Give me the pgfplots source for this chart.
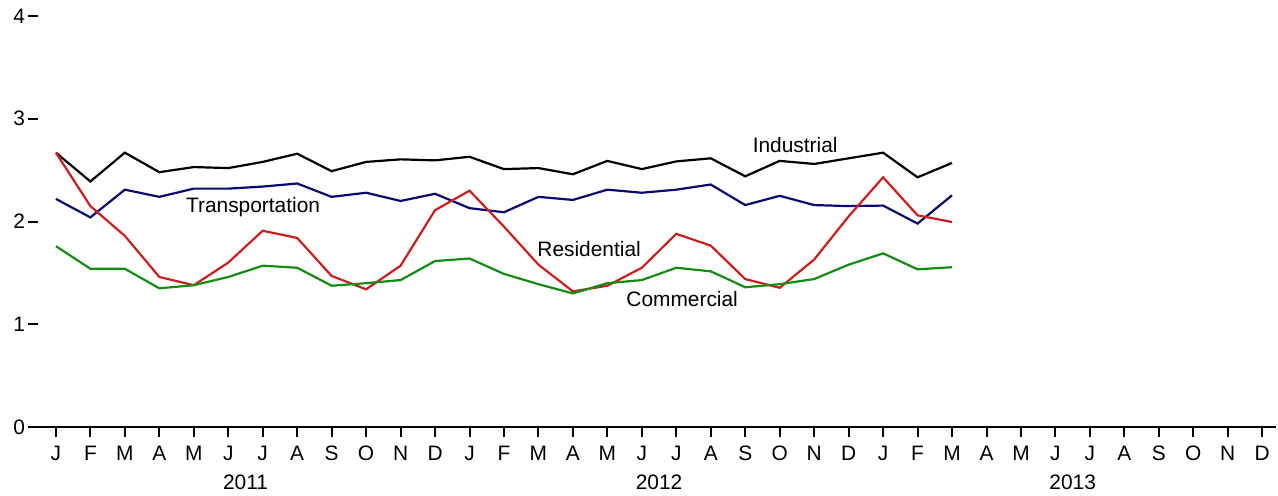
\documentclass[border=0pt]{standalone}
\usepackage{pgfplots}
\pgfplotsset{compat=1.18}
\usepackage{fontspec}
\setmainfont{Liberation Sans}
\definecolor{cNavy}{RGB}{10,10,110}
\definecolor{cRed}{RGB}{204,30,30}
\definecolor{cGreen}{RGB}{20,140,20}
\begin{document}
\begin{tikzpicture}
\path[use as bounding box] (-14pt,-34pt) rectangle (625pt,213.5pt);
\begin{axis}[
  at={(0,0)}, anchor=south west,
  scale only axis,
  width=624pt, height=205.5pt,
  xmin=-0.81, xmax=35.4,
  ymin=0, ymax=4,
  axis x line*=bottom,
  axis y line*=left,
  y axis line style={draw=none},
  x axis line style={line width=1pt,-},
  xtick={0,...,35},
  xticklabels={J,F,M,A,M,J,J,A,S,O,N,D,J,F,M,A,M,J,J,A,S,O,N,D,J,F,M,A,M,J,J,A,S,O,N,D},
  ytick={0,1,2,3,4},
  xtick align=outside,
  ytick align=inside,
  major tick length=5pt,
  every tick/.style={black, line width=1pt},
  tick label style={font=\fontsize{10.45}{12}\selectfont},
  /pgf/number format/assume math mode=true,
  yticklabel style={xshift=2pt},
  xticklabel style={yshift=-1pt},
  clip=false,
]
\addplot[black, line width=1.1pt] coordinates {
(0,2.67)(1,2.39)(2,2.67)(3,2.48)(4,2.53)(5,2.52)(6,2.58)(7,2.66)(8,2.49)(9,2.58)(10,2.605)(11,2.595)
(12,2.63)(13,2.51)(14,2.52)(15,2.46)(16,2.59)(17,2.51)(18,2.585)(19,2.615)(20,2.44)(21,2.59)(22,2.56)(23,2.615)
(24,2.67)(25,2.43)(26,2.57)};
\addplot[cNavy, line width=1.1pt] coordinates {
(0,2.22)(1,2.04)(2,2.31)(3,2.24)(4,2.32)(5,2.32)(6,2.34)(7,2.37)(8,2.24)(9,2.28)(10,2.20)(11,2.27)
(12,2.13)(13,2.09)(14,2.24)(15,2.21)(16,2.31)(17,2.28)(18,2.31)(19,2.36)(20,2.16)(21,2.25)(22,2.16)(23,2.15)
(24,2.155)(25,1.98)(26,2.255)};
\addplot[cRed, line width=1.1pt] coordinates {
(0,2.67)(1,2.15)(2,1.86)(3,1.46)(4,1.38)(5,1.60)(6,1.91)(7,1.84)(8,1.47)(9,1.34)(10,1.57)(11,2.11)
(12,2.30)(13,1.95)(14,1.58)(15,1.32)(16,1.375)(17,1.55)(18,1.88)(19,1.765)(20,1.44)(21,1.355)(22,1.63)(23,2.05)
(24,2.43)(25,2.06)(26,1.995)};
\addplot[cGreen, line width=1.1pt] coordinates {
(0,1.76)(1,1.54)(2,1.54)(3,1.35)(4,1.38)(5,1.46)(6,1.57)(7,1.55)(8,1.375)(9,1.40)(10,1.43)(11,1.615)
(12,1.64)(13,1.49)(14,1.39)(15,1.30)(16,1.40)(17,1.43)(18,1.55)(19,1.515)(20,1.36)(21,1.39)(22,1.44)(23,1.58)
(24,1.69)(25,1.535)(26,1.555)};
\node[font=\fontsize{10.45}{12}\selectfont] at (axis cs:21.45,2.74) {Industrial};
\node[font=\fontsize{10.45}{12}\selectfont] at (axis cs:5.72,2.14) {Transportation};
\node[font=\fontsize{10.45}{12}\selectfont] at (axis cs:15.47,1.73) {Residential};
\node[font=\fontsize{10.45}{12}\selectfont] at (axis cs:18.17,1.245) {Commercial};
\node[font=\fontsize{10.45}{12}\selectfont] at (axis cs:5.5,0) [yshift=-27.5pt] {2011};
\node[font=\fontsize{10.45}{12}\selectfont] at (axis cs:17.5,0) [yshift=-27.5pt] {2012};
\node[font=\fontsize{10.45}{12}\selectfont] at (axis cs:29.5,0) [yshift=-27.5pt] {2013};
\end{axis}
\end{tikzpicture}
\end{document}
